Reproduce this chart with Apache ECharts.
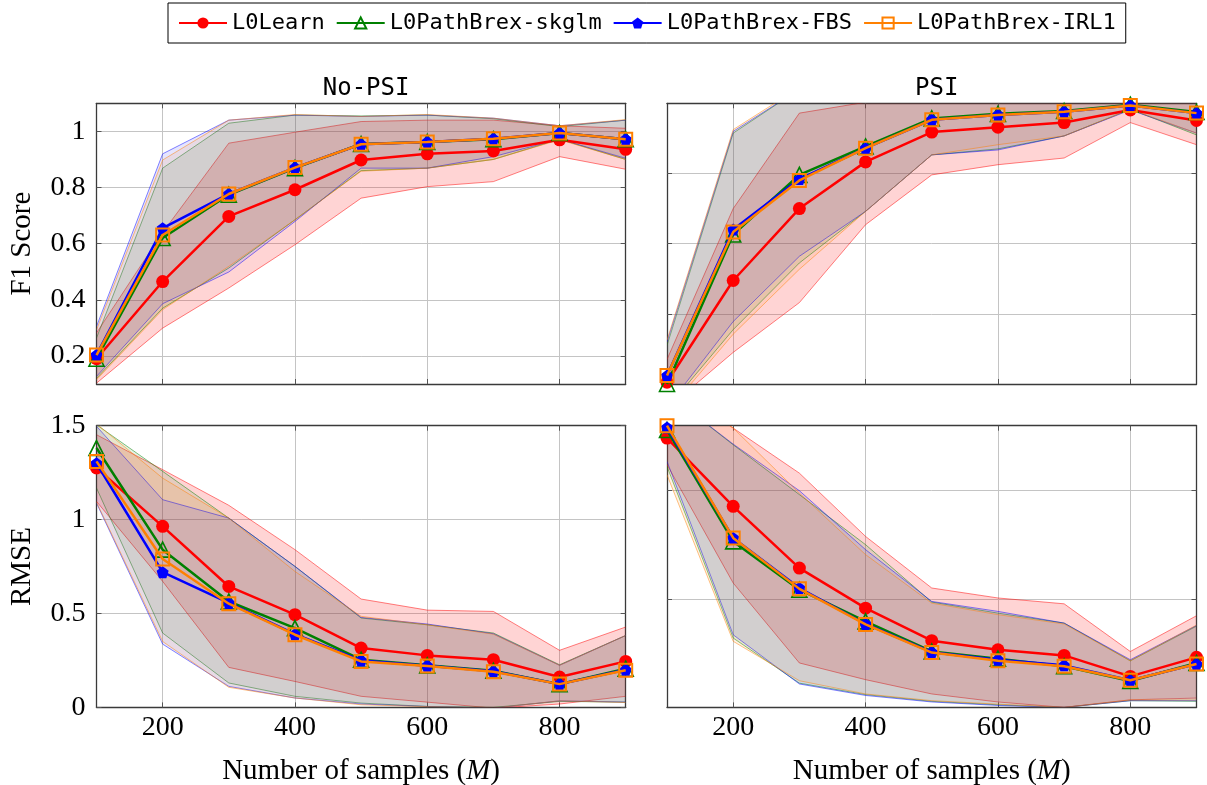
<!DOCTYPE html>
<html><head><meta charset="utf-8">
<script src="https://cdn.jsdelivr.net/npm/echarts@6/dist/echarts.min.js"></script>
<style>html,body{margin:0;padding:0;background:#fff}#c{width:1207px;height:785px}</style>
</head><body><div id="c"></div><script>
// ---------------- data ----------------
const xValues = [100, 200, 300, 400, 500, 600, 700, 800, 900];
const xTicks = [200, 400, 600, 800];
const seriesNames = ['L0Learn', 'L0PathBrex-skglm', 'L0PathBrex-FBS', 'L0PathBrex-IRL1'];
const panelTitles = ['No-PSI', 'PSI'];
const yTicksF1 = [0.2, 0.4, 0.6, 0.8, 1.0];
const yTicksF1Psi = [0.4, 0.6, 0.8];
const yTicksRmse = [0, 0.5, 1, 1.5];
const yTicksRmsePsi = [0.5, 1.0];

// F1, No-PSI
const f1NoPsi_L0Learn_mean = [0.19, 0.465, 0.697, 0.792, 0.898, 0.92, 0.93, 0.97, 0.936];
const f1NoPsi_L0Learn_lo   = [0.103, 0.299, 0.442, 0.596, 0.762, 0.803, 0.821, 0.91, 0.865];
const f1NoPsi_L0Learn_hi   = [0.282, 0.64, 0.958, 0.997, 1.035, 1.04, 1.04, 1.02, 1.011];
const f1NoPsi_skglm_mean   = [0.19, 0.62, 0.774, 0.869, 0.955, 0.962, 0.972, 0.994, 0.972];
const f1NoPsi_skglm_lo     = [0.12, 0.37, 0.513, 0.685, 0.86, 0.869, 0.9, 0.972, 0.9];
const f1NoPsi_skglm_hi     = [0.264, 0.869, 1.029, 1.058, 1.055, 1.058, 1.045, 1.017, 1.04];
const f1NoPsi_FBS_mean     = [0.204, 0.655, 0.777, 0.871, 0.954, 0.962, 0.974, 0.994, 0.972];
const f1NoPsi_FBS_lo       = [0.127, 0.386, 0.499, 0.679, 0.869, 0.869, 0.91, 0.972, 0.904];
const f1NoPsi_FBS_hi       = [0.305, 0.92, 1.04, 1.058, 1.053, 1.058, 1.047, 1.02, 1.04];
const f1NoPsi_IRL1_mean    = [0.203, 0.631, 0.777, 0.871, 0.954, 0.962, 0.974, 0.994, 0.972];
const f1NoPsi_IRL1_lo      = [0.115, 0.365, 0.519, 0.685, 0.858, 0.869, 0.9, 0.97, 0.9];
const f1NoPsi_IRL1_hi      = [0.293, 0.898, 1.04, 1.06, 1.053, 1.06, 1.047, 1.02, 1.042];

// F1, PSI
const f1Psi_L0Learn_mean = [0.205, 0.495, 0.70, 0.833, 0.918, 0.932, 0.945, 0.981, 0.951];
const f1Psi_L0Learn_lo   = [0.13, 0.29, 0.432, 0.654, 0.796, 0.825, 0.844, 0.945, 0.882];
const f1Psi_L0Learn_hi   = [0.27, 0.70, 0.972, 1.003, 1.03, 1.03, 1.03, 1.02, 1.02];
const f1Psi_skglm_mean   = [0.2, 0.626, 0.796, 0.877, 0.957, 0.97, 0.978, 0.996, 0.975];
const f1Psi_skglm_lo     = [0.13, 0.355, 0.545, 0.692, 0.853, 0.87, 0.907, 0.983, 0.91];
const f1Psi_skglm_hi     = [0.31, 0.915, 1.04, 1.06, 1.06, 1.06, 1.05, 1.03, 1.04];
const f1Psi_FBS_mean     = [0.224, 0.64, 0.784, 0.872, 0.953, 0.967, 0.976, 0.994, 0.972];
const f1Psi_FBS_lo       = [0.134, 0.378, 0.564, 0.692, 0.853, 0.867, 0.907, 0.981, 0.915];
const f1Psi_FBS_hi       = [0.32, 0.92, 1.04, 1.06, 1.06, 1.06, 1.05, 1.03, 1.04];
const f1Psi_IRL1_mean    = [0.224, 0.633, 0.78, 0.872, 0.953, 0.967, 0.976, 0.994, 0.972];
const f1Psi_IRL1_lo      = [0.12, 0.342, 0.527, 0.692, 0.853, 0.882, 0.907, 0.983, 0.915];
const f1Psi_IRL1_hi      = [0.325, 0.925, 1.045, 1.06, 1.06, 1.06, 1.05, 1.03, 1.04];

// RMSE, No-PSI
const rmseNoPsi_L0Learn_mean = [1.275, 0.964, 0.644, 0.494, 0.316, 0.277, 0.254, 0.162, 0.245];
const rmseNoPsi_L0Learn_lo   = [1.097, 0.671, 0.213, 0.138, 0.059, 0.028, -0.004, 0.018, 0.059];
const rmseNoPsi_L0Learn_hi   = [1.452, 1.266, 1.076, 0.84, 0.577, 0.518, 0.511, 0.304, 0.428];
const rmseNoPsi_skglm_mean   = [1.381, 0.84, 0.564, 0.422, 0.254, 0.224, 0.195, 0.124, 0.206];
const rmseNoPsi_skglm_lo     = [1.168, 0.396, 0.13, 0.059, 0.023, 0.005, 0.0, 0.032, 0.028];
const rmseNoPsi_skglm_hi     = [1.505, 1.257, 1.008, 0.751, 0.476, 0.44, 0.396, 0.227, 0.383];
const rmseNoPsi_FBS_mean     = [1.30, 0.72, 0.556, 0.39, 0.25, 0.222, 0.192, 0.124, 0.2];
const rmseNoPsi_FBS_lo       = [1.088, 0.337, 0.112, 0.05, 0.018, 0.005, -0.004, 0.035, 0.028];
const rmseNoPsi_FBS_hi       = [1.497, 1.106, 1.008, 0.751, 0.479, 0.444, 0.392, 0.224, 0.383];
const rmseNoPsi_IRL1_mean    = [1.31, 0.79, 0.552, 0.387, 0.245, 0.22, 0.19, 0.124, 0.198];
const rmseNoPsi_IRL1_lo      = [1.093, 0.351, 0.107, 0.05, 0.014, 0.004, -0.004, 0.035, 0.026];
const rmseNoPsi_IRL1_hi      = [1.51, 1.221, 1.008, 0.724, 0.485, 0.44, 0.39, 0.224, 0.383];

// RMSE, PSI
const rmsePsi_L0Learn_mean = [1.243, 0.928, 0.643, 0.458, 0.308, 0.266, 0.24, 0.143, 0.231];
const rmsePsi_L0Learn_lo   = [1.12, 0.574, 0.205, 0.128, 0.062, 0.025, 0.0, 0.035, 0.043];
const rmsePsi_L0Learn_hi   = [1.5, 1.289, 1.081, 0.789, 0.551, 0.505, 0.478, 0.258, 0.423];
const rmsePsi_skglm_mean   = [1.28, 0.766, 0.543, 0.397, 0.258, 0.225, 0.19, 0.122, 0.205];
const rmsePsi_skglm_lo     = [1.112, 0.32, 0.112, 0.059, 0.028, 0.012, 0.0, 0.031, 0.028];
const rmsePsi_skglm_hi     = [1.45, 1.212, 0.982, 0.751, 0.486, 0.435, 0.389, 0.215, 0.375];
const rmsePsi_FBS_mean     = [1.292, 0.782, 0.551, 0.385, 0.255, 0.22, 0.194, 0.125, 0.2];
const rmsePsi_FBS_lo       = [1.135, 0.335, 0.108, 0.055, 0.025, 0.009, 0.0, 0.031, 0.031];
const rmsePsi_FBS_hi       = [1.45, 1.215, 1.0, 0.728, 0.489, 0.443, 0.389, 0.22, 0.378];
const rmsePsi_IRL1_mean    = [1.30, 0.782, 0.547, 0.383, 0.253, 0.215, 0.19, 0.125, 0.2];
const rmsePsi_IRL1_lo      = [1.073, 0.305, 0.123, 0.062, 0.031, 0.015, 0.0, 0.034, 0.034];
const rmsePsi_IRL1_hi      = [1.5, 1.289, 0.989, 0.705, 0.481, 0.428, 0.385, 0.215, 0.38];

// ---------------- styles ----------------
const colors = ['#ff0000', '#008000', '#0000ff', '#ff8000'];
const fillAlpha = [0.17, 0.1, 0.1, 0.1];
const serif = 'Liberation Serif';
const mono = 'DejaVu Sans Mono';
const symbolDefs = [
  {symbol: 'circle', symbolSize: 13, itemStyle: {color: '#ff0000'}},
  {symbol: 'triangle', symbolSize: 15, itemStyle: {color: 'rgba(255,255,255,0)', borderColor: '#008000', borderWidth: 1.6}},
  {symbol: 'path://M0,-10L9.51,-3.09L5.88,8.09L-5.88,8.09L-9.51,-3.09Z', symbolSize: 12, itemStyle: {color: '#0000ff'}},
  {symbol: 'rect', symbolSize: 13, itemStyle: {color: 'rgba(255,255,255,0)', borderColor: '#ff8000', borderWidth: 2}}
];

const panels = [
  {box: [96.5, 103.3, 529.2, 280.7], yMin: 0.1, yMax: 1.1, yTicks: yTicksF1, yLabels: true, xLabels: false, yName: 'F1 Score', title: panelTitles[0],
   data: [[f1NoPsi_L0Learn_mean, f1NoPsi_L0Learn_lo, f1NoPsi_L0Learn_hi], [f1NoPsi_skglm_mean, f1NoPsi_skglm_lo, f1NoPsi_skglm_hi],
          [f1NoPsi_FBS_mean, f1NoPsi_FBS_lo, f1NoPsi_FBS_hi], [f1NoPsi_IRL1_mean, f1NoPsi_IRL1_lo, f1NoPsi_IRL1_hi]]},
  {box: [667, 103.3, 529.5, 280.7], yMin: 0.2, yMax: 1.0, yTicks: yTicksF1Psi, yLabels: false, xLabels: false, yName: '', title: panelTitles[1],
   data: [[f1Psi_L0Learn_mean, f1Psi_L0Learn_lo, f1Psi_L0Learn_hi], [f1Psi_skglm_mean, f1Psi_skglm_lo, f1Psi_skglm_hi],
          [f1Psi_FBS_mean, f1Psi_FBS_lo, f1Psi_FBS_hi], [f1Psi_IRL1_mean, f1Psi_IRL1_lo, f1Psi_IRL1_hi]]},
  {box: [96.5, 425.7, 529.2, 281.7], yMin: 0, yMax: 1.5, yTicks: yTicksRmse, yLabels: true, xLabels: true, yName: 'RMSE', title: '',
   data: [[rmseNoPsi_L0Learn_mean, rmseNoPsi_L0Learn_lo, rmseNoPsi_L0Learn_hi], [rmseNoPsi_skglm_mean, rmseNoPsi_skglm_lo, rmseNoPsi_skglm_hi],
          [rmseNoPsi_FBS_mean, rmseNoPsi_FBS_lo, rmseNoPsi_FBS_hi], [rmseNoPsi_IRL1_mean, rmseNoPsi_IRL1_lo, rmseNoPsi_IRL1_hi]]},
  {box: [667, 425.7, 529.5, 281.7], yMin: 0, yMax: 1.3, yTicks: yTicksRmsePsi, yLabels: false, xLabels: true, yName: '', title: '',
   data: [[rmsePsi_L0Learn_mean, rmsePsi_L0Learn_lo, rmsePsi_L0Learn_hi], [rmsePsi_skglm_mean, rmsePsi_skglm_lo, rmsePsi_skglm_hi],
          [rmsePsi_FBS_mean, rmsePsi_FBS_lo, rmsePsi_FBS_hi], [rmsePsi_IRL1_mean, rmsePsi_IRL1_lo, rmsePsi_IRL1_hi]]}
];

function rgba(hex, a) {
  const n = parseInt(hex.slice(1), 16);
  return 'rgba(' + (n >> 16 & 255) + ',' + (n >> 8 & 255) + ',' + (n & 255) + ',' + a + ')';
}

const frame = {show: true, onZero: false, lineStyle: {color: '#3a3a3a', width: 1.3}};
const grids = [], xAxes = [], yAxes = [], series = [], titles = [];

panels.forEach(function (p, pi) {
  grids.push({left: p.box[0], top: p.box[1], width: p.box[2], height: p.box[3], containLabel: false, outerBoundsMode: 'none'});
  xAxes.push({
    type: 'value', gridIndex: pi, min: 100, max: 900, position: 'bottom',
    axisLine: frame,
    axisTick: {show: true, inside: true, length: 5, customValues: xTicks, lineStyle: {color: '#555'}},
    axisLabel: {show: p.xLabels, customValues: xTicks, fontFamily: serif, fontSize: 28, color: '#000', margin: 6},
    splitLine: {show: true, lineStyle: {color: '#c4c4c4', width: 1}},
    name: p.xLabels ? 'Number of samples ({i|M})' : '', nameLocation: 'middle', nameGap: 49,
    nameTextStyle: {fontFamily: serif, fontSize: 29, color: '#000', rich: {i: {fontFamily: serif, fontSize: 29, fontStyle: 'italic', color: '#000'}}}
  });
  xAxes.push({
    type: 'value', gridIndex: pi, min: 100, max: 900, position: 'top',
    axisLine: frame,
    axisTick: {show: true, inside: true, length: 5, customValues: xTicks, lineStyle: {color: '#555'}},
    axisLabel: {show: false}, splitLine: {show: false}
  });
  yAxes.push({
    type: 'value', gridIndex: pi, min: p.yMin, max: p.yMax, position: 'left',
    axisLine: frame,
    axisTick: {show: true, inside: true, length: 5, customValues: p.yTicks, lineStyle: {color: '#555'}},
    axisLabel: {show: p.yLabels, customValues: p.yTicks, fontFamily: serif, fontSize: 28, color: '#000', margin: 11},
    splitLine: {show: true, lineStyle: {color: '#c4c4c4', width: 1}},
    name: p.yName, nameLocation: 'middle', nameGap: 60, nameRotate: 90,
    nameTextStyle: {fontFamily: serif, fontSize: 29, color: '#000'}
  });
  yAxes.push({
    type: 'value', gridIndex: pi, min: p.yMin, max: p.yMax, position: 'right',
    axisLine: frame,
    axisTick: {show: true, inside: true, length: 5, customValues: p.yTicks, lineStyle: {color: '#555'}},
    axisLabel: {show: false}, splitLine: {show: false}
  });
  if (p.title) {
    titles.push({text: p.title, left: p.box[0] + p.box[2] / 2, top: 72, textAlign: 'center',
      textStyle: {fontFamily: mono, fontSize: 24, fontWeight: 'normal', color: '#000'}});
  }
  p.data.forEach(function (d, si) {
    const col = colors[si];
    const fa = fillAlpha[si];
    series.push({
      type: 'custom', name: 'band-' + pi + '-' + si, xAxisIndex: 2 * pi, yAxisIndex: 2 * pi,
      silent: true, clip: true, z: 1, animation: false,
      data: xValues.map(function (x, i) { return [x, d[1][i], d[2][i]]; }),
      encode: {x: 0, y: [1, 2]},
      renderItem: function (params, api) {
        if (params.dataIndex !== 0) return null;
        const n = xValues.length;
        const up = [], dn = [];
        for (let i = 0; i < n; i++) {
          up.push(api.coord([api.value(0, i), api.value(2, i)]));
          dn.push(api.coord([api.value(0, i), api.value(1, i)]));
        }
        const cs = params.coordSys;
        return {
          type: 'group',
          clipPath: {type: 'rect', shape: {x: cs.x, y: cs.y, width: cs.width, height: cs.height}},
          children: [
            {type: 'polygon', shape: {points: up.concat(dn.slice().reverse())}, style: {fill: rgba(col, fa), stroke: null}},
            {type: 'polyline', shape: {points: up}, style: {fill: null, stroke: rgba(col, 0.55), lineWidth: 0.9}},
            {type: 'polyline', shape: {points: dn}, style: {fill: null, stroke: rgba(col, 0.55), lineWidth: 0.9}}
          ]
        };
      }
    });
  });
  p.data.forEach(function (d, si) {
    const sd = symbolDefs[si];
    series.push({
      type: 'line', name: seriesNames[si], xAxisIndex: 2 * pi, yAxisIndex: 2 * pi,
      data: xValues.map(function (x, i) { return [x, d[0][i]]; }),
      symbol: sd.symbol, symbolSize: sd.symbolSize, showAllSymbol: true, itemStyle: sd.itemStyle,
      lineStyle: {color: colors[si], width: 2.5}, z: 3 + si, animation: false, clip: true
    });
  });
});

const chart = echarts.init(document.getElementById('c'), null, {renderer: 'canvas'});
chart.setOption({
  backgroundColor: '#fff',
  animation: false,
  title: titles,
  legend: {
    data: seriesNames, left: 168, top: 3, orient: 'horizontal',
    borderColor: '#000', borderWidth: 1, backgroundColor: '#fff',
    padding: [9, 10, 9, 10], itemGap: 11, itemWidth: 48, itemHeight: 14,
    textStyle: {fontFamily: mono, fontSize: 22, color: '#000'}
  },
  grid: grids, xAxis: xAxes, yAxis: yAxes, series: series
});
</script></body></html>
